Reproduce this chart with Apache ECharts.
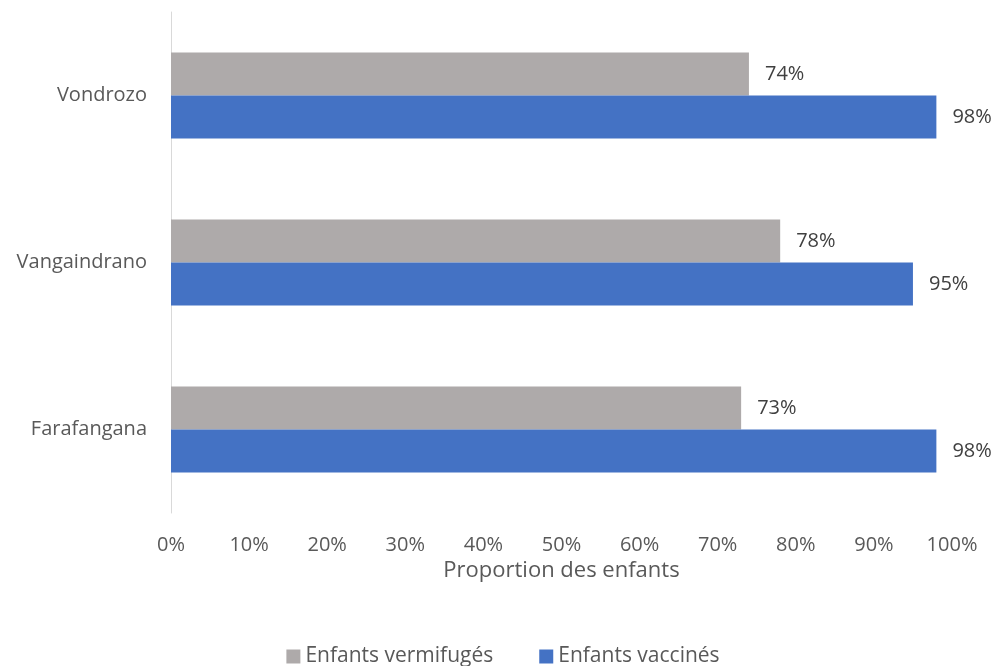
<!DOCTYPE html>
<html>
<head>
<meta charset="utf-8">
<script src="https://cdn.jsdelivr.net/npm/echarts@6/dist/echarts.min.js"></script>
<style>
  html, body { margin: 0; padding: 0; background: #fff; }
  #chart { width: 1006px; height: 666px; }
</style>
</head>
<body>
<div id="chart"></div>
<script>
// Districts, listed bottom to top on the category axis
const districts = ['Farafangana', 'Vangaindrano', 'Vondrozo'];
// Share of children (%) per district
const dewormed = [73, 78, 74];
const vaccinated = [98, 95, 98];
const seriesNames = ['Enfants vermifugés', 'Enfants vaccinés'];
const xTicks = [0, 10, 20, 30, 40, 50, 60, 70, 80, 90, 100];

const FONT = '"Open Sans", sans-serif';

const chart = echarts.init(document.getElementById('chart'), null, { renderer: 'canvas' });

const labelStyle = {
  show: true,
  position: 'right',
  distance: 16,
  color: '#404040',
  fontSize: 20,
  fontFamily: FONT,
  formatter: p => p.value + '%'
};

chart.setOption({
  animation: false,
  backgroundColor: '#ffffff',
  grid: { left: 171, right: 54, top: 12, bottom: 153, containLabel: false },
  legend: {
    data: seriesNames,
    top: 641,
    left: 'center',
    itemWidth: 14,
    itemHeight: 14,
    itemGap: 46,
    icon: 'rect',
    textStyle: { color: '#595959', fontSize: 21, fontFamily: FONT }
  },
  xAxis: {
    type: 'value',
    min: 0,
    max: 100,
    interval: 10,
    name: 'Proportion des enfants',
    nameLocation: 'middle',
    nameGap: 46,
    nameTextStyle: { color: '#595959', fontSize: 22, fontFamily: FONT },
    axisLine: { show: false },
    axisTick: { show: false },
    splitLine: { show: false },
    axisLabel: {
      color: '#595959',
      fontSize: 20,
      fontFamily: FONT,
      margin: 22,
      formatter: v => (xTicks.indexOf(v) >= 0 ? v + '%' : '')
    }
  },
  yAxis: {
    type: 'category',
    data: districts,
    axisLine: { show: true, lineStyle: { color: '#D9D9D9', width: 1 } },
    axisTick: { show: false },
    axisLabel: { color: '#595959', fontSize: 20, fontFamily: FONT, margin: 24, padding: [4, 0, 0, 0] }
  },
  series: [
    {
      name: seriesNames[0],
      type: 'bar',
      data: dewormed,
      barWidth: 43,
      barGap: '0%',
      itemStyle: { color: '#AEAAAA' },
      label: labelStyle
    },
    {
      name: seriesNames[1],
      type: 'bar',
      data: vaccinated,
      barWidth: 43,
      barGap: '0%',
      itemStyle: { color: '#4472C4' },
      label: labelStyle
    }
  ]
});
</script>
</body>
</html>
